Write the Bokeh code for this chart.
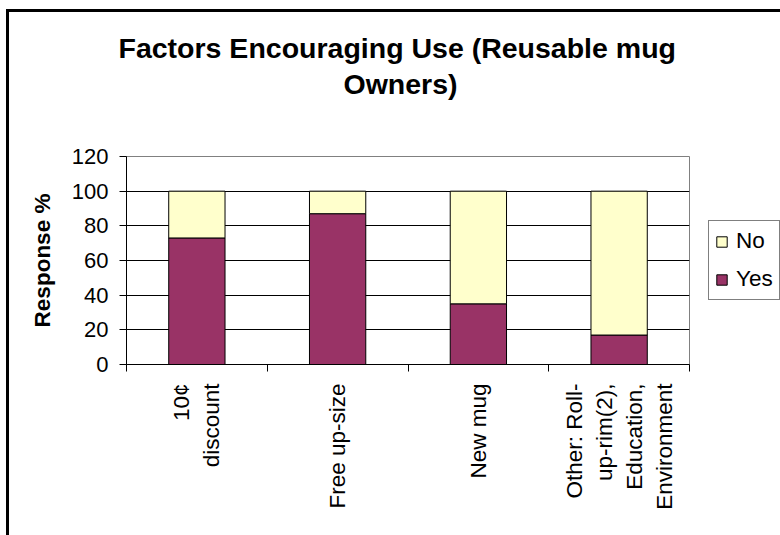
import math
from bokeh.plotting import figure
from bokeh.models import (ColumnDataSource, Range1d, FixedTicker, Legend, LegendItem, Title)
from bokeh.embed import file_html
from bokeh.resources import INLINE

# ---- data ----
categories = ["10¢\ndiscount", "Free up-size", "New mug",
              "Other: Roll-\nup-rim(2),\nEducation,\nEnvironment"]
yes_pct = [73, 87, 35, 17]
no_pct = [27, 13, 65, 83]
y_ticks = [0, 20, 40, 60, 80, 100, 120]
title_lines = ["Factors Encouraging Use (Reusable mug", "Owners)"]
y_title = "Response %"
series_names = ["Yes", "No"]

FONT = "Liberation Sans"
YES_COLOR = "#993366"
NO_COLOR = "#FFFFCC"

xs = [i + 0.5 for i in range(len(categories))]
totals = [a + b for a, b in zip(yes_pct, no_pct)]
src = ColumnDataSource(dict(x=xs, yes=yes_pct, no=no_pct, total=totals))

p = figure(output_backend="svg", toolbar_location=None,
           frame_width=563, frame_height=208,
           min_border_left=126, min_border_right=91,
           min_border_top=156, min_border_bottom=171,
           x_range=Range1d(0, len(categories)), y_range=Range1d(y_ticks[0], y_ticks[-1]),
           background_fill_color="white", border_fill_color="white")
p.border_fill_alpha = 0
p.title.text = ""
p.outline_line_color = "#808080"
p.outline_line_width = 1
# outer chart-area border (left and top edges visible in the picture)
p.styles = {
    "background": ("linear-gradient(#000, #000) 6px 9px / 3px 100% no-repeat, "
                   "linear-gradient(#000, #000) 6px 9px / 100% 3px no-repeat, #fff"),
}

r_yes = p.vbar(x="x", bottom=0, top="yes", width=0.4, source=src,
               fill_color=YES_COLOR, line_color="black", line_width=1)
r_no = p.vbar(x="x", bottom="yes", top="total", width=0.4, source=src,
              fill_color=NO_COLOR, line_color="black", line_width=1)

# grid
p.xgrid.visible = False
p.ygrid.ticker = FixedTicker(ticks=y_ticks[1:-1])
p.ygrid.grid_line_color = "black"
p.ygrid.grid_line_width = 1

# y axis
ya = p.yaxis[0]
ya.ticker = FixedTicker(ticks=y_ticks)
ya.axis_line_color = "black"
ya.major_tick_line_color = "black"
ya.major_tick_out = 7
ya.major_tick_in = 0
ya.minor_tick_line_color = None
ya.major_label_standoff = 11
ya.major_label_text_font = FONT
ya.major_label_text_font_size = "22px"
ya.major_label_text_color = "black"
ya.axis_label = y_title
ya.axis_label_text_font = FONT
ya.axis_label_text_font_style = "bold"
ya.axis_label_text_font_size = "22.5px"
ya.axis_label_text_color = "black"
ya.axis_label_standoff = 14

# x axis: labels at category centres, tick marks at boundaries
xa = p.xaxis[0]
xa.ticker = FixedTicker(ticks=xs, minor_ticks=list(range(len(categories) + 1)))
xa.major_label_overrides = {x: c for x, c in zip(xs, categories)}
xa.major_tick_out = 0
xa.major_tick_in = 0
xa.minor_tick_out = 7
xa.minor_tick_in = 0
xa.minor_tick_line_color = "black"
xa.axis_line_color = "black"
xa.major_label_orientation = math.pi / 2
xa.major_label_standoff = 12
xa.major_label_text_font = FONT
xa.major_label_text_font_size = "22.5px"
xa.major_label_text_color = "black"
xa.major_label_text_align = "center"

# legend in the right-hand panel
legend = Legend(items=[LegendItem(label=series_names[1], renderers=[r_no]),
                       LegendItem(label=series_names[0], renderers=[r_yes])],
                location=(19, 64))
legend.border_line_color = "black"
legend.border_line_width = 1
legend.background_fill_color = "white"
legend.background_fill_alpha = 1
legend.label_text_font = FONT
legend.label_text_font_size = "22.5px"
legend.label_text_color = "black"
legend.glyph_width = 13
legend.glyph_height = 13
legend.label_standoff = 8
legend.label_height = 28
legend.padding = 6
legend.spacing = 10
legend.margin = 0
p.add_layout(legend, "right")

# title: an empty spacer next to the plot area, then the two title lines
p.add_layout(Title(text=" ", standoff=44, text_font=FONT, text_font_size="10px"), "above")
for txt, offset, standoff in [(title_lines[1], 217, 0), (title_lines[0], -8, 4)]:
    p.add_layout(Title(text=txt, align="left", offset=offset, standoff=standoff,
                       vertical_align="bottom",
                       text_font=FONT, text_font_style="bold",
                       text_font_size="28.5px", text_color="black"), "above")

open("out.html", "w").write(file_html(p, INLINE))
